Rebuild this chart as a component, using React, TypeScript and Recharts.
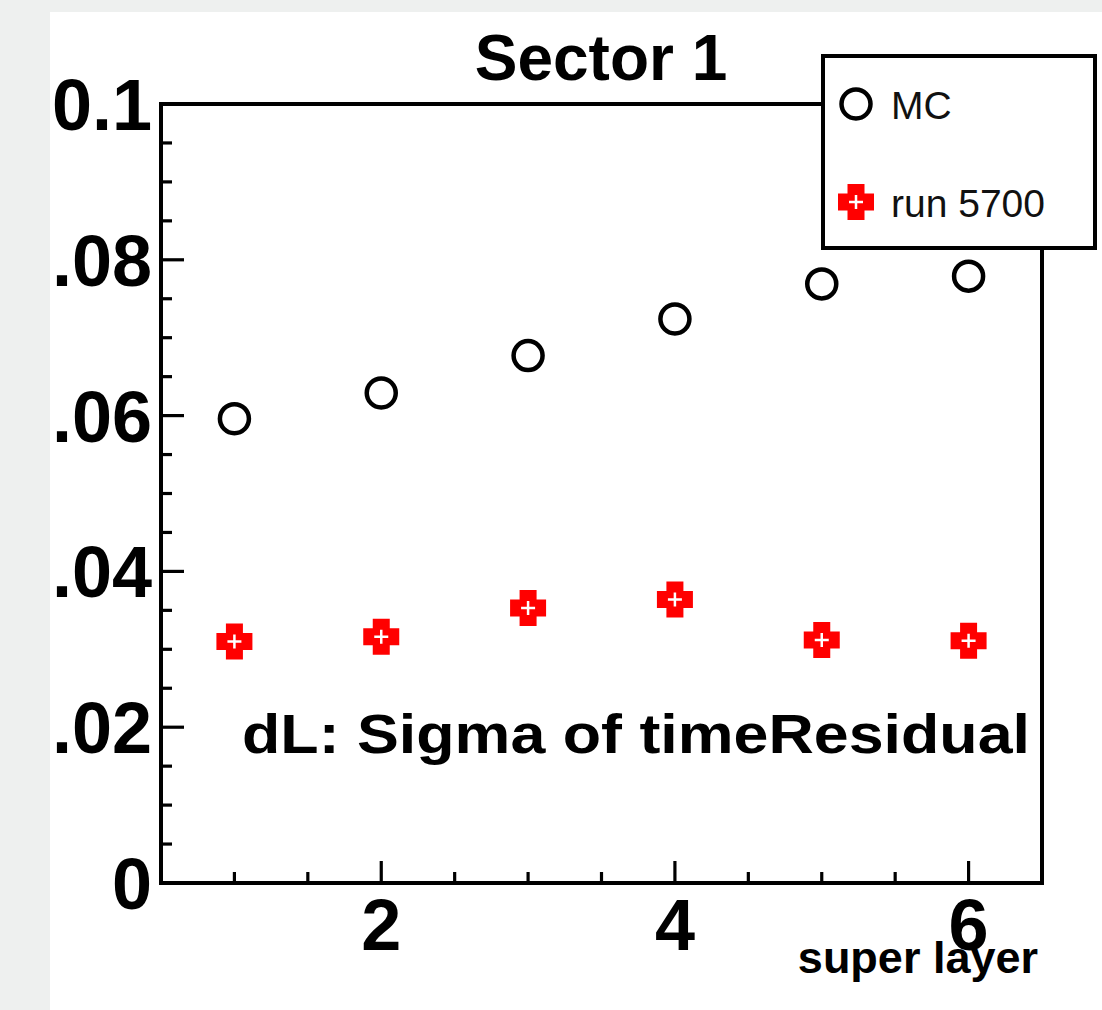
import { ScatterChart, Scatter, XAxis, YAxis, ReferenceLine, Legend } from "recharts";

const superLayers = [1, 2, 3, 4, 5, 6];
const mcSigma = [0.0596, 0.0629, 0.0677, 0.0724, 0.0769, 0.0779];
const run5700Sigma = [0.031, 0.0316, 0.0353, 0.0364, 0.0312, 0.0311];

const xTicks = [1, 1.5, 2, 2.5, 3, 3.5, 4, 4.5, 5, 5.5, 6];
const xLabels = [2, 4, 6];
const yTicks = [
  0, 0.005, 0.01, 0.015, 0.02, 0.025, 0.03, 0.035, 0.04, 0.045, 0.05,
  0.055, 0.06, 0.065, 0.07, 0.075, 0.08, 0.085, 0.09, 0.095, 0.1,
];
const yLabels = ["0", "0.02", "0.04", "0.06", "0.08", "0.1"];

const mcData = superLayers.map((x, i) => ({ x, y: mcSigma[i] }));
const runData = superLayers.map((x, i) => ({ x, y: run5700Sigma[i] }));

const FONT = "'Liberation Sans', Arial, Helvetica, sans-serif";
const GRAY = "#eef0ef";

const OpenCircle = ({ cx, cy }: any) => (
  <circle cx={cx} cy={cy} r={14.5} fill="none" stroke="#000" strokeWidth={4.5} />
);

const OpenCross = ({ cx, cy }: any) => {
  const a = 18;
  const b = 8.5;
  const d = `M${cx - b},${cy - a} H${cx + b} V${cy - b} H${cx + a} V${cy + b} H${cx + b} V${cy + a} H${cx - b} V${cy + b} H${cx - a} V${cy - b} H${cx - b} Z`;
  return (
    <g>
      <path d={d} fill="#ff0000" />
      <path
        d={`M${cx - 7},${cy} H${cx + 7} M${cx},${cy - 7} V${cy + 7}`}
        stroke="#fff"
        strokeWidth={2.5}
      />
    </g>
  );
};

const YTick = ({ x, y, payload }: any) => {
  const step = Math.round(payload.value * 1000);
  const major = step % 20 === 0;
  return (
    <g>
      <line x1={x} x2={x + (major ? 23 : 11)} y1={y} y2={y} stroke="#000" strokeWidth={3.2} />
      {major && (
        <text x={x - 9} y={y + 26} textAnchor="end" fontFamily={FONT} fontWeight="bold" fontSize={72} fill="#000">
          {yLabels[step / 20]}
        </text>
      )}
    </g>
  );
};

const XTick = ({ x, y, payload }: any) => {
  const major = xLabels.includes(payload.value);
  return (
    <g>
      <line x1={x} x2={x} y1={y} y2={y - (major ? 22 : 11)} stroke="#000" strokeWidth={3.2} />
      {major && (
        <text x={x} y={y + 67} textAnchor="middle" fontFamily={FONT} fontWeight="bold" fontSize={72} fill="#000">
          {payload.value}
        </text>
      )}
    </g>
  );
};

const LegendBox = ({ payload }: any) => (
  <svg width={276} height={196} style={{ display: "block" }}>
    <rect x={2} y={2} width={272} height={192} fill="#fff" stroke="#000" strokeWidth={4} />
    {(payload || []).map((entry: any, i: number) => {
      const cy = 50 + i * 98;
      return (
        <g key={entry.value}>
          {entry.value === "MC" ? <OpenCircle cx={35} cy={cy} /> : <OpenCross cx={35} cy={cy} />}
          <text x={70} y={cy + 15} fontFamily={FONT} fontSize={39} fill="#111">
            {entry.value}
          </text>
        </g>
      );
    })}
  </svg>
);

export default function App() {
  return (
    <div style={{ position: "absolute", left: 0, top: 0, width: 1102, height: 1010, background: GRAY, overflow: "hidden" }}>
      <div style={{ position: "absolute", left: 50, top: 12, width: 1052, height: 998, background: "#fff" }} />
      <div style={{ position: "absolute", left: 0, top: 0 }}>
        <ScatterChart width={1102} height={1010} margin={{ top: 104, right: 60, bottom: 67, left: 61 }}>
          <XAxis
            type="number"
            dataKey="x"
            domain={[0.5, 6.5]}
            ticks={xTicks}
            interval={0}
            allowDataOverflow
            height={60}
            tickSize={0}
            tickMargin={0}
            tickLine={false}
            axisLine={{ stroke: "#000", strokeWidth: 4, strokeLinecap: "square" }}
            tick={<XTick />}
          />
          <YAxis
            type="number"
            dataKey="y"
            domain={[0, 0.1]}
            ticks={yTicks}
            interval={0}
            allowDataOverflow
            width={100}
            tickSize={0}
            tickMargin={0}
            tickLine={false}
            axisLine={{ stroke: "#000", strokeWidth: 4, strokeLinecap: "square" }}
            tick={<YTick />}
          />
          <ReferenceLine y={0.1} stroke="#000" strokeWidth={4} />
          <ReferenceLine x={6.5} stroke="#000" strokeWidth={4} />
          <Scatter name="MC" data={mcData} fill="#000" shape={<OpenCircle />} isAnimationActive={false} />
          <Scatter name="run 5700" data={runData} fill="#ff0000" shape={<OpenCross />} isAnimationActive={false} />
          <Legend
            layout="horizontal"
            verticalAlign="middle"
            align="center"
            content={<LegendBox />}
            wrapperStyle={{ position: "absolute", left: 821, top: 54, width: 276, height: 196 }}
          />
          <text x={601} y={80} textAnchor="middle" fontFamily={FONT} fontWeight="bold" fontSize={64} fill="#000">
            Sector 1
          </text>
          <text x={242} y={753} fontFamily={FONT} fontWeight="bold" fontSize={56} fill="#000" textLength={788} lengthAdjust="spacingAndGlyphs">
            dL: Sigma of timeResidual
          </text>
          <text x={1038} y={973} textAnchor="end" fontFamily={FONT} fontWeight="bold" fontSize={45} fill="#000">
            super layer
          </text>
        </ScatterChart>
      </div>
      <div style={{ position: "absolute", left: 0, top: 0, width: 50, height: 1010, background: GRAY }} />
      <div style={{ position: "absolute", left: 0, top: 0, width: 1102, height: 12, background: GRAY }} />
    </div>
  );
}
